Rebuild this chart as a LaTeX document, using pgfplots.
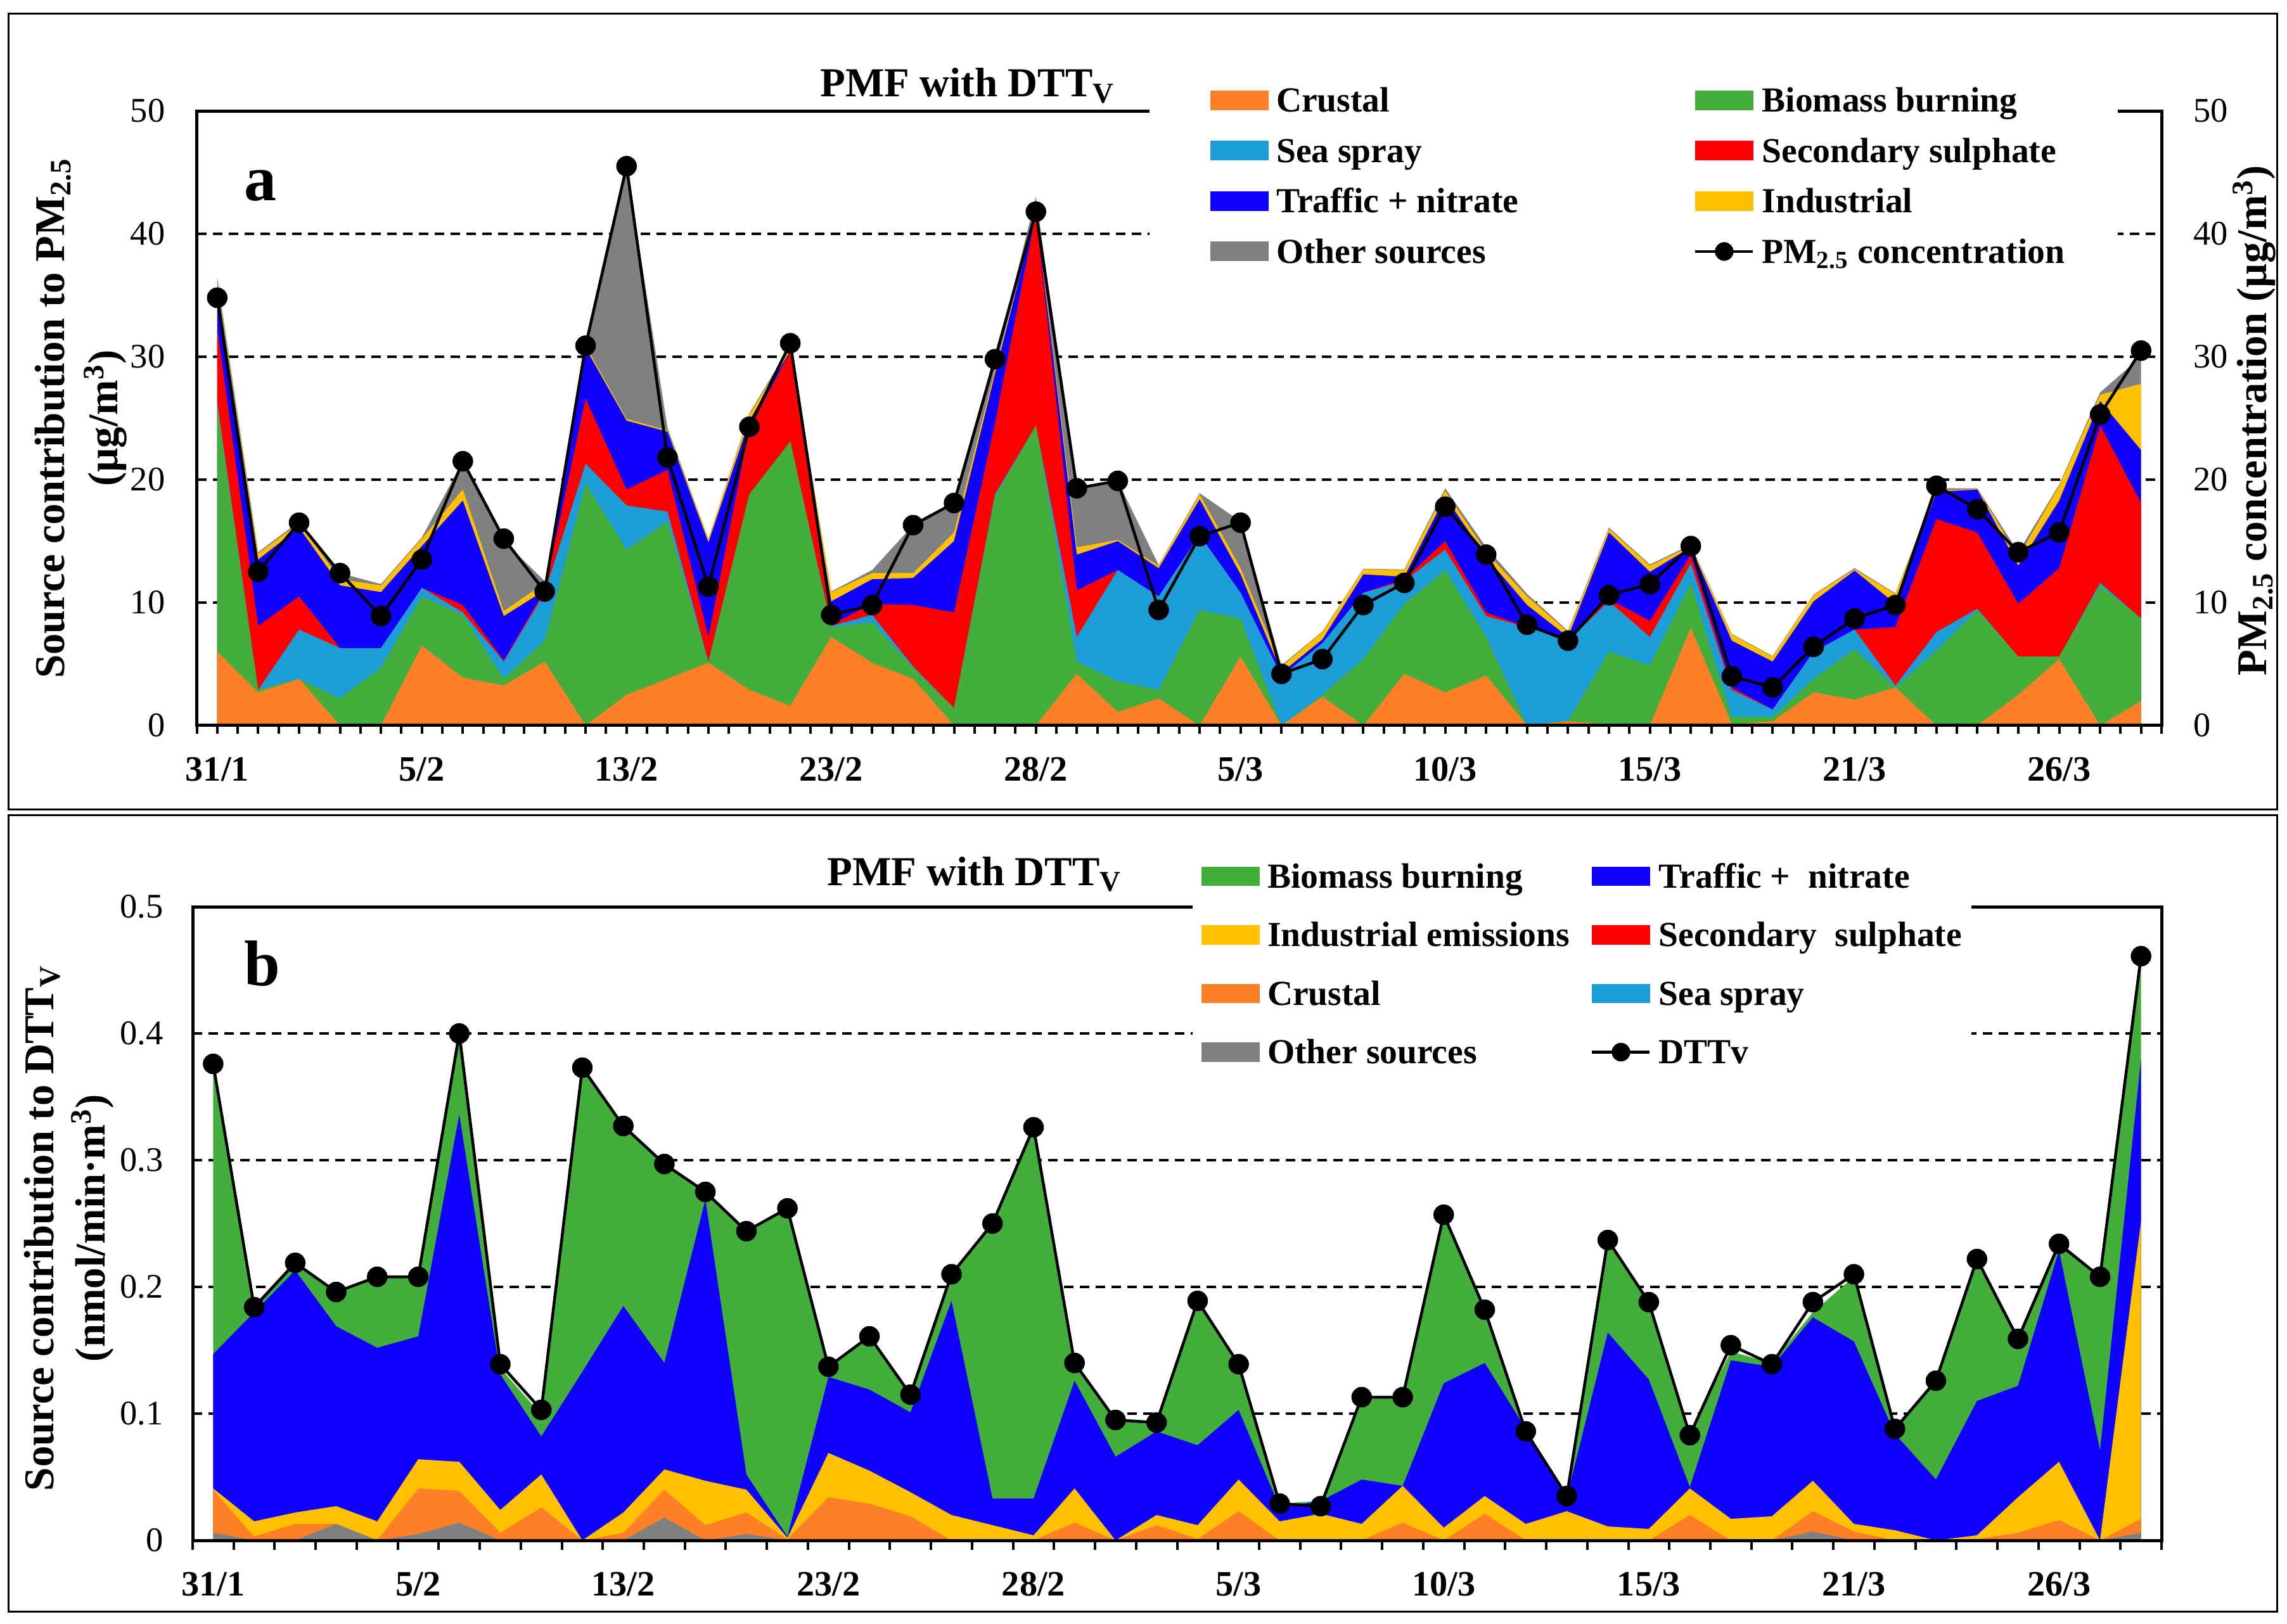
\documentclass[border=0pt]{standalone}
\usepackage{fontspec}
\setmainfont{Liberation Serif}
\usepackage{pgfplots}
\usepackage{pgfplotstable}
\pgfplotsset{compat=1.18}
\definecolor{cCr}{RGB}{255,127,39}
\definecolor{cBb}{RGB}{68,174,60}
\definecolor{cSs}{RGB}{29,157,216}
\definecolor{cSu}{RGB}{255,0,0}
\definecolor{cTr}{RGB}{16,0,255}
\definecolor{cIn}{RGB}{255,192,0}
\definecolor{cOt}{RGB}{128,128,128}

% Panel a: cumulative tops of the stacked sources (ug/m3)
\pgfplotstableread{
i cr bb ss su tr in ot pm
0 6.0 26.0 26.3 32.3 35.8 36.1 36.5 34.8
1 2.7 2.9 2.9 8.1 13.5 14.0 14.1 12.5
2 3.8 3.8 7.8 10.5 16.1 16.45 16.6 16.5
3 0.0 2.2 6.3 6.3 11.4 11.9 12.4 12.4
4 0.0 4.7 6.3 6.3 10.85 11.4 11.5 8.9
5 6.5 10.5 11.2 11.2 14.6 15.2 15.3 13.5
6 3.9 9.0 9.2 9.8 18.3 19.2 21.5 21.5
7 3.25 3.8 5.2 5.3 8.9 9.3 15.0 15.2
8 5.2 6.9 10.8 11.0 11.0 11.6 11.75 10.9
9 0.0 19.7 21.3 26.6 30.7 30.9 31.1 30.9
10 2.5 14.3 17.9 19.2 24.8 24.95 45.5 45.5
11 3.8 16.6 17.4 20.8 23.9 24.0 24.2 21.8
12 5.1 5.1 5.2 7.2 14.9 15.2 15.2 11.3
13 2.9 18.8 18.8 24.2 24.8 25.3 25.4 24.3
14 1.6 23.1 23.1 30.4 30.5 30.7 30.9 31.1
15 7.2 8.0 8.1 8.2 10.1 10.85 10.9 9.0
16 5.1 8.4 9.0 9.9 11.9 12.4 12.65 9.8
17 3.8 4.7 4.8 9.8 12.0 12.4 16.3 16.3
18 0.0 1.4 1.4 9.2 15.0 15.7 18.1 18.1
19 0.0 18.6 18.8 24.6 28.6 28.9 29.6 29.8
20 0.0 24.4 24.4 41.6 41.7 41.9 43.0 41.8
21 4.2 5.2 7.2 11.0 13.9 14.5 19.3 19.3
22 1.1 3.6 12.65 12.65 15.0 15.1 19.9 19.9
23 2.2 2.9 10.5 10.5 12.8 13.0 13.05 9.4
24 0.0 9.4 15.5 15.5 18.4 18.8 18.9 15.4
25 5.6 8.7 10.8 10.8 12.3 12.8 16.6 16.5
26 0.0 0.0 4.0 4.0 4.3 4.8 4.9 4.2
27 2.35 2.5 6.7 6.7 7.0 7.6 7.65 5.4
28 0.0 5.4 10.8 10.8 12.3 12.7 12.75 9.8
29 4.2 9.9 11.75 11.9 12.1 12.65 12.7 11.6
30 2.7 12.65 14.3 15.0 18.6 19.1 19.3 17.8
31 4.05 7.2 8.9 9.2 13.7 14.1 14.5 13.9
32 0.0 0.0 8.0 8.0 9.8 10.5 10.7 8.2
33 0.35 0.4 6.9 6.9 7.2 7.6 7.7 6.9
34 0.1 6.0 10.1 10.3 15.7 16.0 16.1 10.6
35 0.0 4.9 7.2 8.5 12.5 13.0 13.1 11.5
36 7.95 11.6 13.2 13.9 14.5 14.6 14.7 14.6
37 0.1 0.7 2.9 3.1 6.9 7.4 7.45 4.0
38 0.35 0.7 1.3 1.3 5.2 5.6 5.65 3.1
39 2.7 3.8 6.0 6.0 10.1 10.6 10.65 6.4
40 2.1 6.2 7.8 7.8 12.6 12.7 12.8 8.7
41 3.1 3.1 3.25 8.0 9.9 10.7 10.75 9.8
42 0.0 6.1 7.6 16.8 19.0 19.1 19.3 19.5
43 0.0 9.4 9.5 15.7 19.2 19.25 19.3 17.6
44 2.5 5.6 5.6 9.9 13.0 13.7 14.1 14.1
45 5.4 5.6 5.6 12.8 18.3 19.5 19.6 15.7
46 0.0 11.4 11.6 24.4 26.4 26.9 27.1 25.3
47 2.0 8.7 8.7 18.1 22.4 27.8 30.0 30.5
}\pa

% Panel b: cumulative tops of the stacked sources (nmol/min m3)
\pgfplotstableread{
i ot cr in tr bb dtt
0 0.006 0.040 0.041 0.147 0.376 0.376
1 0.0 0.003 0.015 0.180 0.184 0.184
2 0.0 0.013 0.022 0.213 0.219 0.219
3 0.013 0.013 0.027 0.169 0.196 0.196
4 0.0 0.0 0.015 0.152 0.208 0.208
5 0.005 0.041 0.064 0.161 0.208 0.208
6 0.014 0.039 0.062 0.336 0.398 0.400
7 0.0 0.006 0.024 0.131 0.136 0.139
8 0.0 0.026 0.052 0.082 0.099 0.103
9 0.0 0.0 0.0 0.133 0.373 0.373
10 0.0 0.006 0.022 0.185 0.327 0.327
11 0.018 0.040 0.056 0.140 0.297 0.297
12 0.0 0.012 0.047 0.269 0.275 0.275
13 0.005 0.022 0.040 0.052 0.245 0.244
14 0.0 0.001 0.002 0.003 0.262 0.262
15 0.0 0.034 0.069 0.129 0.138 0.137
16 0.0 0.029 0.055 0.119 0.161 0.161
17 0.0 0.019 0.038 0.101 0.115 0.115
18 0.0 0.0 0.020 0.189 0.210 0.210
19 0.0 0.0 0.012 0.033 0.250 0.250
20 0.0 0.0 0.004 0.033 0.326 0.326
21 0.0 0.014 0.041 0.126 0.140 0.140
22 0.0 0.0 0.0 0.066 0.095 0.095
23 0.0 0.012 0.020 0.086 0.093 0.093
24 0.0 0.001 0.012 0.075 0.189 0.189
25 0.0 0.023 0.048 0.103 0.139 0.139
26 0.0 0.0 0.015 0.026 0.029 0.029
27 0.0 0.0 0.021 0.031 0.031 0.027
28 0.0 0.0 0.013 0.048 0.113 0.113
29 0.0 0.014 0.043 0.043 0.113 0.113
30 0.0 0.0 0.010 0.124 0.257 0.257
31 0.0 0.021 0.035 0.140 0.182 0.182
32 0.0 0.0 0.013 0.088 0.088 0.086
33 0.0 0.0 0.023 0.034 0.034 0.035
34 0.0 0.0 0.011 0.164 0.237 0.237
35 0.0 0.0 0.009 0.127 0.188 0.188
36 0.0 0.020 0.041 0.042 0.084 0.083
37 0.0 0.0 0.017 0.142 0.149 0.154
38 0.0 0.0 0.019 0.137 0.140 0.139
39 0.007 0.023 0.047 0.176 0.180 0.188
40 0.0 0.007 0.013 0.157 0.208 0.210
41 0.0 0.0 0.008 0.084 0.089 0.088
42 0.0 0.0 0.0 0.048 0.126 0.126
43 0.0 0.001 0.004 0.110 0.220 0.222
44 0.0 0.006 0.034 0.122 0.159 0.159
45 0.0 0.016 0.062 0.229 0.233 0.234
46 0.0 0.0 0.0 0.071 0.208 0.208
47 0.006 0.017 0.252 0.380 0.459 0.461
}\pb

\newcommand\xtf{\fontsize{16}{18}\selectfont\bfseries}
\newcommand\ytf{\fontsize{15.5}{18}\selectfont}
\newcommand\lbf{\fontsize{19}{23.5}\selectfont\bfseries}
\newcommand\lgf{\fontsize{15.8}{18}\selectfont\bfseries}
\newcommand\LA[2]{\makebox[#1][l]{#2}}

\pgfplotsset{
  base/.style={scale only axis, xmin=-0.5, xmax=47.5, anchor=south west,
    /pgf/number format/assume math mode=true},
  lgpatch/.style={legend image code/.code={\fill[#1] (0cm,-0.1475cm) rectangle (0.91cm,0.1475cm);}},
  lgdot/.style={legend image code/.code={\draw[black,line width=0.045cm] (0cm,0cm) -- (0.91cm,0cm); \fill[black] (0.455cm,0cm) circle (0.14cm);}},
  gridst/.style={ymajorgrids, grid style={black, line width=0.045cm, dash pattern=on 0.15cm off 0.10cm}},
  xlab/.style={xtick={0,5,...,45},
    xticklabels={31/1,5/2,13/2,23/2,28/2,5/3,10/3,15/3,21/3,26/3},
    xticklabel style={font=\xtf, anchor=base, inner sep=0pt, yshift=-0.87cm}},
  ser/.style={black, line width=0.045cm, mark=*, mark size=0.14cm, mark options={solid, fill=black, draw=black}, forget plot},
}

\begin{document}
\begin{tikzpicture}
\useasboundingbox (0,0) rectangle (36.09,25.62);

% ================= Panel a =================
\begin{axis}[base, at={(3.105cm,14.17cm)}, width=31.005cm, height=9.70cm,
  ymin=0, ymax=50, axis line style={draw=none}, tick style={draw=none}, tick align=inside,
  xlab, gridst,
  ytick={0,10,20,30,40,50},
  yticklabel style={font=\ytf, anchor=east, inner sep=0pt, xshift=-0.495cm},
  ylabel={Source contribution to PM\textsubscript{2.5}},
  ylabel style={at={(axis description cs:-0.0731,0.5)}, anchor=center, font=\lbf}]
\addplot[fill=cOt, draw=none] table[x=i,y=ot]{\pa} \closedcycle;
\addplot[fill=cIn, draw=none] table[x=i,y=in]{\pa} \closedcycle;
\addplot[fill=cTr, draw=none] table[x=i,y=tr]{\pa} \closedcycle;
\addplot[fill=cSu, draw=none] table[x=i,y=su]{\pa} \closedcycle;
\addplot[fill=cSs, draw=none] table[x=i,y=ss]{\pa} \closedcycle;
\addplot[fill=cBb, draw=none] table[x=i,y=bb]{\pa} \closedcycle;
\addplot[fill=cCr, draw=none] table[x=i,y=cr]{\pa} \closedcycle;
\end{axis}

\begin{axis}[base, at={(3.105cm,14.17cm)}, width=31.005cm, height=9.70cm,
  ymin=0, ymax=50, axis line style={line width=0.05cm},
  xtick={-0.5,0,...,47.5}, xticklabels={}, xtick pos=left, ytick=\empty,
  tick align=outside, major tick length=0.13cm, tick style={line width=0.04cm, black},
  ylabel={(µg/m\textsuperscript{3})},
  ylabel style={at={(axis description cs:-0.0466,0.5)}, anchor=center, font=\lbf},
  legend columns=2, legend cell align=left,
  legend style={at={(0.4846,1.0588)}, anchor=north west, draw=none, fill=white,
    inner xsep=0.96cm, inner ysep=0pt, row sep=0pt, column sep=0pt,
    nodes={inner sep=0pt, text height=0.5815cm, text depth=0.2135cm}, font=\lgf,
    /tikz/every odd column/.append style={column sep=0.12cm},
    /tikz/every even column/.append style={column sep=0.69cm}}]
\addplot[ser] table[x=i,y=pm]{\pa};
\addlegendimage{lgpatch=cCr}\addlegendentry{\LA{5.9cm}{Crustal}}
\addlegendimage{lgpatch=cBb}\addlegendentry{\LA{4.65cm}{Biomass burning}}
\addlegendimage{lgpatch=cSs}\addlegendentry{\LA{5.9cm}{Sea spray}}
\addlegendimage{lgpatch=cSu}\addlegendentry{\LA{4.65cm}{Secondary sulphate}}
\addlegendimage{lgpatch=cTr}\addlegendentry{\LA{5.9cm}{Traffic + nitrate}}
\addlegendimage{lgpatch=cIn}\addlegendentry{\LA{4.65cm}{Industrial}}
\addlegendimage{lgpatch=cOt}\addlegendentry{\LA{5.9cm}{Other sources}}
\addlegendimage{lgdot}\addlegendentry{\LA{4.65cm}{PM\textsubscript{2.5} concentration}}
\end{axis}

\begin{axis}[base, at={(3.105cm,14.17cm)}, width=31.005cm, height=9.70cm,
  ymin=0, ymax=50, hide x axis, axis y line*=right, axis line style={draw=none},
  ytick={0,10,20,30,40,50}, ytick style={draw=none}, tick align=inside,
  yticklabel style={font=\ytf, anchor=west, inner sep=0pt, xshift=0.5cm},
  ylabel={PM\textsubscript{2.5} concentration (µg/m\textsuperscript{3})},
  ylabel style={at={(axis description cs:1.0471,0.496)}, anchor=center, font=\lbf}]
\addplot[draw=none, forget plot] coordinates {(0,0)};
\end{axis}

% ================= Panel b =================
\begin{axis}[base, at={(3.04cm,1.31cm)}, width=31.07cm, height=10cm,
  ymin=0, ymax=0.5, axis line style={draw=none}, tick style={draw=none}, tick align=inside,
  xlab, gridst,
  ytick={0,0.1,0.2,0.3,0.4,0.5},
  yticklabel style={font=\ytf, anchor=east, inner sep=0pt, xshift=-0.46cm,
    /pgf/number format/fixed, /pgf/number format/precision=1},
  ylabel={Source contribution to DTT\textsubscript{V}},
  ylabel style={at={(axis description cs:-0.0763,0.493)}, anchor=center, font=\lbf}]
\addplot[fill=cBb, draw=none] table[x=i,y=bb]{\pb} \closedcycle;
\addplot[fill=cTr, draw=none] table[x=i,y=tr]{\pb} \closedcycle;
\addplot[fill=cIn, draw=none] table[x=i,y=in]{\pb} \closedcycle;
\addplot[fill=cCr, draw=none] table[x=i,y=cr]{\pb} \closedcycle;
\addplot[fill=cOt, draw=none] table[x=i,y=ot]{\pb} \closedcycle;
\end{axis}

\begin{axis}[base, at={(3.04cm,1.31cm)}, width=31.07cm, height=10cm,
  ymin=0, ymax=0.5, axis line style={line width=0.05cm},
  xtick={-0.5,0.5,...,47.5}, xticklabels={}, xtick pos=left, ytick=\empty,
  tick align=outside, major tick length=0.15cm, tick style={line width=0.04cm, black},
  ylabel={(nmol/min·m\textsuperscript{3})},
  ylabel style={at={(axis description cs:-0.0509,0.493)}, anchor=center, font=\lbf},
  legend columns=2, legend cell align=left,
  legend style={at={(0.5076,1.095)}, anchor=north west, draw=none, fill=white,
    inner xsep=0.14cm, inner ysep=0pt, row sep=0pt, column sep=0pt,
    nodes={inner sep=0pt, text height=0.6465cm, text depth=0.2785cm}, font=\lgf,
    /tikz/every odd column/.append style={column sep=0.12cm},
    /tikz/every even column/.append style={column sep=0.2cm}}]
\addplot[ser] table[x=i,y=dtt]{\pb};
\addlegendimage{lgpatch=cBb}\addlegendentry{\LA{4.9cm}{Biomass burning}}
\addlegendimage{lgpatch=cTr}\addlegendentry{\LA{4.79cm}{Traffic +~~nitrate}}
\addlegendimage{lgpatch=cIn}\addlegendentry{\LA{4.9cm}{Industrial emissions}}
\addlegendimage{lgpatch=cSu}\addlegendentry{\LA{4.79cm}{Secondary~~sulphate}}
\addlegendimage{lgpatch=cCr}\addlegendentry{\LA{4.9cm}{Crustal}}
\addlegendimage{lgpatch=cSs}\addlegendentry{\LA{4.79cm}{Sea spray}}
\addlegendimage{lgpatch=cOt}\addlegendentry{\LA{4.9cm}{Other sources}}
\addlegendimage{lgdot}\addlegendentry{\LA{4.79cm}{DTTv}}
\end{axis}

% titles, panel letters and frames
\node[anchor=base west, inner sep=0pt, font=\fontsize{18.5}{20}\selectfont\bfseries] at (12.94,24.09) {PMF with DTT\textsubscript{V}};
\node[anchor=base west, inner sep=0pt, font=\fontsize{18.5}{20}\selectfont\bfseries] at (13.05,11.65) {PMF with DTT\textsubscript{V}};
\node[anchor=base west, inner sep=0pt, font=\fontsize{29}{30}\selectfont\bfseries] at (3.85,22.45) {a};
\node[anchor=base west, inner sep=0pt, font=\fontsize{29}{30}\selectfont\bfseries] at (3.85,10.07) {b};
\draw[line width=0.03cm] (0.13,12.85) rectangle (35.93,25.40);
\draw[line width=0.03cm] (0.13,0.19) rectangle (35.93,12.76);
\end{tikzpicture}
\end{document}
